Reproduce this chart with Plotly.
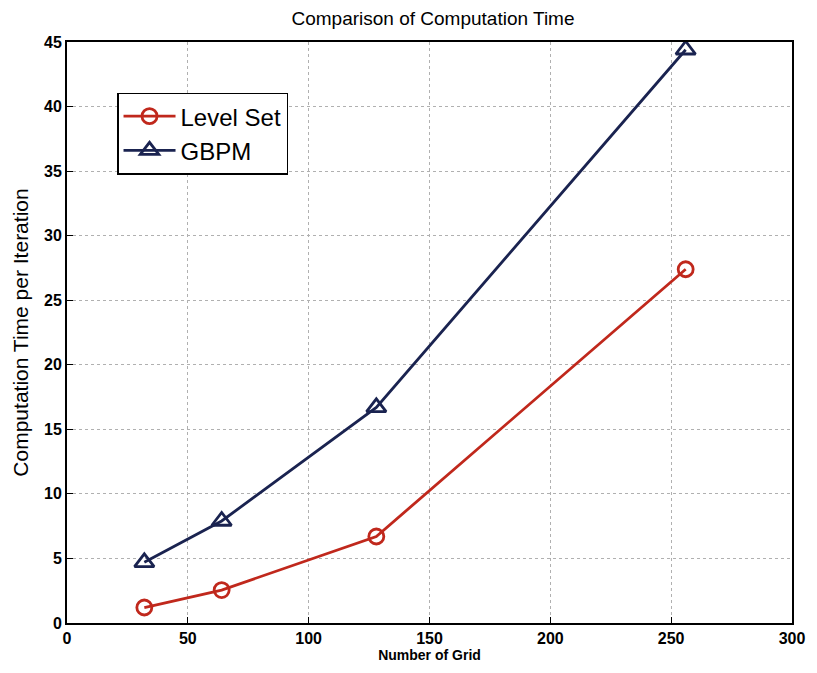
import plotly.graph_objects as go

grid_sizes = [32, 64, 128, 256]
level_set = [1.2, 2.55, 6.7, 27.4]
gbpm = [4.7, 7.9, 16.7, 44.4]
x_ticks = [0, 50, 100, 150, 200, 250, 300]
y_ticks = [0, 5, 10, 15, 20, 25, 30, 35, 40, 45]

fig = go.Figure()
fig.add_trace(go.Scatter(x=grid_sizes, y=level_set, mode="lines+markers", name="Level Set",
                         line=dict(color="#c0281c", width=2.8),
                         marker=dict(symbol="circle-open", size=15, color="#c0281c", line=dict(width=2.8))))
fig.add_trace(go.Scatter(x=grid_sizes, y=gbpm, mode="lines+markers", name="GBPM",
                         line=dict(color="#1a2350", width=2.8),
                         marker=dict(symbol="triangle-up-open", size=17, color="#1a2350", line=dict(width=2.8))))

axis_common = dict(showline=True, linecolor="black", linewidth=2, mirror=True,
                   ticks="inside", ticklen=6, tickcolor="black",
                   showgrid=True, gridcolor="#b0b0b0", griddash="dot", gridwidth=1,
                   zeroline=False,
                   tickfont=dict(family="Liberation Sans, Arial, sans-serif", size=16, color="black", weight="bold"))

fig.update_layout(
    width=817, height=673,
    margin=dict(l=67, r=18, t=42, b=50),
    paper_bgcolor="white", plot_bgcolor="white",
    title=dict(text="Comparison of Computation Time", x=0.53, xanchor="center", y=0.972, yanchor="middle",
               font=dict(family="Liberation Sans, Arial, sans-serif", size=19, color="black")),
    xaxis=dict(range=[0, 300], tickvals=x_ticks,
               title=dict(text="Number of Grid", font=dict(family="Liberation Sans, Arial, sans-serif", size=14, color="black", weight="bold"), standoff=4),
               **axis_common),
    yaxis=dict(range=[0, 45], tickvals=y_ticks,
               title=dict(text="Computation Time per Iteration", font=dict(family="Liberation Sans, Arial, sans-serif", size=21, color="black"), standoff=10),
               **axis_common),
    legend=dict(x=0.069, y=0.913, xanchor="left", yanchor="top",
                bgcolor="white", bordercolor="black", borderwidth=1.5,
                font=dict(family="Liberation Sans, Arial, sans-serif", size=24, color="black"),
                itemwidth=52, tracegroupgap=0),
    showlegend=True,
)

fig.write_html("out.html")
